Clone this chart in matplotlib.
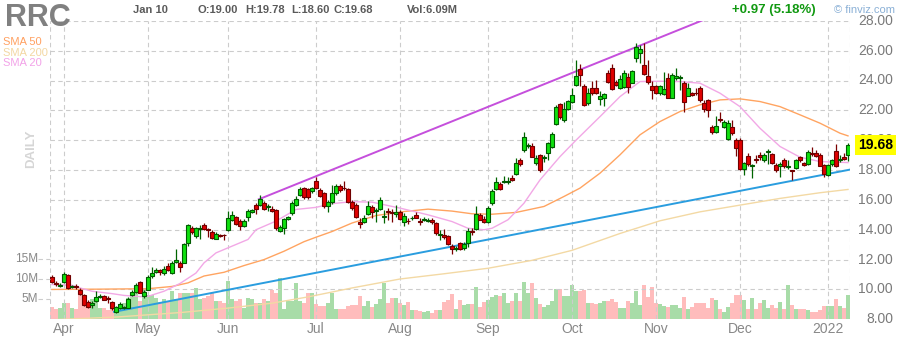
import numpy as np
import matplotlib
matplotlib.use("Agg")
import matplotlib.pyplot as plt
from matplotlib.lines import Line2D
from matplotlib.transforms import blended_transform_factory

plt.rcParams['font.family'] = ['Liberation Sans', 'DejaVu Sans']

# ---- data (trading-day index 0 = 2021-03-29 ... 199 = 2022-01-10) ----
opens = [10.82, 10.42, 10.26, 10.48, 11.0, 10.18, 10.25, 9.99, 9.65, 9.16,
         8.95, 9.2, 9.5, 9.59, 9.42, 9.16, 8.5, 8.76, 8.78, 8.76,
         9.63, 9.83, 10.5, 9.55, 9.99, 10.88, 11.18, 11.3, 11.1, 11.6,
         11.1, 11.85, 11.78, 11.78, 13.08, 14.13, 13.57, 14.08, 14.29, 14.06,
         13.86, 13.41, 13.66, 13.68, 13.97, 14.68, 14.86, 14.58, 14.24, 14.83,
         15.2, 15.63, 15.65, 15.8, 15.52, 15.4, 15.35, 13.9, 14.13, 14.69,
         15.09, 15.65, 16.3, 16.77, 16.7, 16.59, 17.28, 16.67, 16.45, 15.56,
         15.83, 16.45, 16.9, 16.83, 16.74, 15.85, 15.67, 14.49, 14.55, 15.04,
         15.51, 15.25, 15.42, 14.88, 15.22, 15.18, 15.04, 15.2, 14.51, 14.6,
         14.76, 15.0, 14.58, 14.68, 14.6, 14.67, 14.44, 13.64, 13.66, 13.55,
         12.92, 12.7, 13.1, 12.77, 13.1, 13.9, 14.04, 15.0, 14.73, 14.51,
         15.78, 16.72, 17.08, 17.2, 17.17, 17.46, 17.72, 18.68, 19.35, 19.6,
         19.62, 18.46, 19.02, 18.82, 19.13, 19.53, 21.09, 22.41, 21.36, 22.08,
         22.59, 23.71, 24.75, 23.64, 22.52, 23.48, 23.48, 22.79, 22.83, 24.49,
         24.82, 23.91, 23.48, 23.55, 24.22, 23.86, 25.49, 25.87, 25.04, 24.31,
         23.64, 23.64, 23.15, 23.1, 24.15, 22.86, 24.15, 24.2, 23.82, 22.97,
         23.15, 23.17, 23.48, 22.52, 22.66, 20.87, 20.58, 21.42, 20.87, 20.07,
         20.87, 20.02, 20.02, 18.06, 18.95, 18.3, 18.7, 19.02, 18.68, 19.22,
         19.06, 18.33, 18.24, 18.68, 18.22, 18.0, 18.12, 18.86, 18.46, 18.42,
         19.17, 19.13, 19.02, 18.33, 17.66, 18.42, 19.29, 18.7, 18.86, 19.00]
highs = [11.0, 10.55, 10.45, 11.2, 11.02, 10.3, 10.35, 10.1, 9.72, 9.27,
         9.2, 9.87, 9.72, 9.66, 9.55, 9.25, 8.92, 9.14, 8.9, 9.48,
         9.99, 10.43, 10.54, 9.99, 10.95, 11.48, 11.43, 11.36, 11.55, 11.74,
         11.88, 12.68, 11.9, 13.12, 14.4, 14.24, 14.2, 14.29, 14.47, 14.13,
         13.97, 13.84, 13.73, 13.72, 15.28, 15.25, 14.95, 14.69, 14.69, 15.36,
         15.36, 15.8, 16.34, 15.92, 15.7, 15.58, 15.4, 14.35, 14.78, 14.91,
         15.92, 16.25, 16.88, 16.88, 16.8, 16.88, 17.52, 16.79, 16.56, 15.99,
         16.99, 17.07, 17.07, 17.25, 16.79, 16.0, 15.78, 14.78, 14.99, 15.9,
         15.67, 15.45, 16.18, 15.34, 15.45, 15.4, 15.63, 15.34, 15.12, 14.78,
         14.94, 15.16, 14.76, 14.87, 14.76, 14.78, 14.55, 13.99, 14.04, 13.66,
         13.06, 12.9, 13.2, 13.15, 14.11, 14.11, 15.56, 15.11, 14.89, 15.56,
         16.72, 17.56, 17.23, 17.61, 17.56, 17.68, 18.79, 18.79, 20.52, 19.8,
         19.8, 19.0, 19.09, 19.02, 19.91, 20.52, 22.37, 22.52, 22.59, 22.7,
         23.48, 25.4, 25.11, 23.77, 23.48, 24.0, 24.04, 23.3, 23.13, 24.71,
         25.11, 24.04, 24.38, 24.71, 24.49, 24.71, 26.5, 26.38, 26.5, 25.36,
         23.97, 23.68, 23.68, 24.55, 24.49, 24.49, 24.82, 24.38, 24.0, 23.82,
         23.26, 23.48, 23.6, 22.7, 22.75, 21.02, 21.6, 21.86, 21.36, 21.36,
         21.36, 20.13, 20.13, 18.57, 19.13, 18.42, 19.02, 19.24, 19.13, 19.4,
         19.17, 18.46, 18.57, 18.79, 18.68, 18.02, 18.73, 18.95, 18.57, 19.31,
         19.53, 19.35, 19.17, 18.42, 18.42, 18.73, 19.75, 19.02, 19.17, 19.78]
lows = [10.44, 10.2, 10.15, 10.44, 10.05, 10.1, 10.05, 9.65, 8.92, 8.77,
        8.77, 9.13, 9.4, 9.3, 9.1, 8.65, 8.45, 8.7, 8.72, 8.74,
        9.55, 9.77, 9.73, 9.45, 9.95, 10.78, 11.1, 11.0, 11.0, 11.22,
        11.06, 11.78, 11.14, 11.74, 12.9, 13.7, 13.46, 13.39, 13.97, 13.5,
        13.35, 13.35, 13.5, 13.3, 13.9, 14.57, 14.3, 13.97, 14.2, 14.58,
        15.1, 15.08, 15.58, 15.31, 15.25, 15.18, 13.97, 13.84, 13.7, 14.64,
        15.02, 15.58, 16.25, 16.06, 16.04, 16.47, 16.74, 16.22, 15.45, 15.16,
        15.74, 16.34, 16.52, 16.65, 15.78, 15.34, 14.78, 14.09, 14.44, 14.99,
        14.78, 14.53, 15.34, 14.44, 14.67, 14.49, 14.88, 14.67, 14.26, 14.4,
        14.67, 14.78, 14.33, 14.58, 14.49, 14.4, 13.66, 13.33, 13.39, 12.99,
        12.38, 12.56, 12.65, 12.65, 12.84, 13.66, 13.95, 14.62, 14.44, 14.44,
        15.67, 16.63, 16.63, 17.12, 17.08, 17.26, 17.68, 18.3, 19.24, 19.46,
        18.86, 18.35, 17.9, 18.57, 18.68, 19.46, 21.02, 21.45, 21.25, 21.99,
        22.48, 23.6, 23.6, 22.3, 22.37, 23.04, 23.1, 22.37, 22.3, 23.8,
        23.37, 23.6, 23.42, 23.48, 23.19, 23.82, 25.27, 25.16, 24.38, 23.77,
        22.77, 23.1, 23.04, 23.04, 22.82, 22.82, 24.04, 23.33, 21.9, 22.93,
        22.93, 23.04, 22.59, 21.86, 21.54, 20.42, 20.47, 21.25, 20.8, 20.02,
        20.36, 18.92, 18.02, 17.68, 18.24, 17.5, 18.46, 18.68, 18.57, 18.42,
        18.42, 17.9, 17.55, 18.13, 18.06, 17.3, 18.06, 18.57, 18.24, 18.35,
        18.95, 18.86, 18.24, 17.53, 17.57, 18.24, 18.2, 18.57, 18.64, 18.60]
closes = [10.5, 10.36, 10.3, 11.04, 10.1, 10.22, 10.17, 9.7, 8.98, 8.83,
          9.1, 9.5, 9.55, 9.32, 9.38, 8.76, 8.83, 9.03, 8.82, 9.37,
          9.81, 10.28, 9.77, 9.86, 10.84, 11.1, 11.31, 11.18, 11.4, 11.33,
          11.74, 12.0, 11.49, 13.06, 14.35, 13.84, 14.13, 14.12, 14.02, 13.97,
          13.46, 13.73, 13.55, 13.62, 14.79, 14.98, 14.4, 14.24, 14.56, 15.23,
          15.3, 15.4, 16.03, 15.4, 15.56, 15.25, 14.13, 14.17, 14.69, 14.84,
          15.8, 16.07, 16.7, 16.2, 16.2, 16.77, 16.81, 16.29, 15.56, 15.85,
          16.45, 16.94, 16.67, 16.78, 15.83, 15.45, 14.84, 14.4, 14.82, 15.56,
          15.22, 15.29, 15.98, 14.92, 15.18, 15.14, 15.2, 14.7, 14.9, 14.56,
          14.8, 14.8, 14.53, 14.72, 14.64, 14.49, 13.77, 13.68, 13.5, 13.06,
          12.7, 12.74, 12.7, 13.06, 13.93, 13.86, 15.07, 14.67, 14.51, 15.49,
          16.61, 17.23, 16.72, 17.25, 17.28, 17.3, 18.46, 18.39, 20.2, 19.64,
          18.9, 18.82, 18.0, 18.86, 19.8, 20.4, 22.21, 21.54, 22.1, 22.61,
          23.04, 24.31, 24.38, 22.37, 23.15, 23.15, 23.15, 22.99, 23.1, 23.93,
          23.42, 23.68, 24.08, 24.49, 23.55, 24.64, 26.27, 26.09, 24.44, 23.93,
          23.33, 23.15, 23.6, 23.44, 22.86, 24.38, 24.33, 24.24, 22.59, 23.48,
          23.04, 23.13, 22.7, 22.08, 21.99, 20.58, 20.96, 21.38, 21.25, 21.14,
          20.47, 19.51, 18.06, 18.46, 18.42, 18.35, 18.66, 18.86, 19.02, 19.26,
          18.46, 17.97, 18.42, 18.24, 18.26, 17.93, 18.68, 18.64, 18.35, 19.24,
          19.08, 18.95, 18.28, 17.75, 18.33, 18.64, 18.24, 18.73, 18.71, 19.68]
volumes = [3.2, 2.5, 2.9, 4.2, 4.2, 2.9, 2.7, 6.5, 5.0, 4.2,
           5.2, 5.2, 2.9, 2.9, 2.3, 3.2, 2.9, 3.8, 4.2, 5.4,
           5.8, 6.5, 4.6, 7.5, 6.0, 6.0, 5.4, 4.3, 5.2, 4.3,
           7.2, 5.0, 6.7, 6.7, 6.7, 6.7, 7.9, 5.2, 5.4, 5.8,
           6.5, 4.6, 4.6, 4.2, 9.6, 5.0, 4.6, 5.0, 2.9, 5.4,
           5.2, 4.2, 4.2, 5.2, 4.6, 7.3, 6.5, 10.4, 2.5, 4.6,
           4.6, 9.0, 4.6, 4.0, 6.5, 6.5, 3.8, 3.3, 3.3, 4.0,
           6.5, 2.7, 2.7, 2.7, 3.3, 3.6, 3.6, 5.8, 3.3, 4.6,
           3.2, 3.8, 5.2, 9.0, 4.0, 5.4, 5.4, 4.2, 3.6, 4.4,
           2.3, 2.3, 2.1, 1.9, 2.1, 1.7, 2.4, 2.4, 4.4, 4.8,
           6.3, 2.5, 4.8, 3.6, 3.8, 3.8, 8.2, 3.2, 4.4, 4.8,
           5.5, 6.2, 5.8, 6.6, 4.2, 4.6, 6.5, 4.6, 9.4, 6.6,
           9.2, 5.4, 3.8, 3.2, 3.6, 4.6, 7.7, 7.6, 5.8, 5.8,
           8.6, 7.0, 7.2, 7.3, 4.0, 4.0, 3.75, 4.0, 4.6, 4.6,
           5.0, 4.3, 2.9, 2.9, 4.6, 4.2, 7.1, 3.5, 8.5, 5.7,
           8.1, 4.0, 3.75, 3.3, 3.2, 3.5, 3.5, 2.9, 5.6, 2.7,
           3.2, 4.0, 4.0, 4.0, 2.75, 5.4, 4.75, 2.7, 1.9, 3.2,
           4.2, 6.0, 6.0, 4.75, 2.5, 5.25, 2.5, 4.2, 4.75, 2.9,
           3.6, 2.9, 4.4, 2.5, 8.5, 3.5, 2.7, 2.7, 2.5, 2.25,
           1.8, 1.9, 2.3, 3.3, 3.3, 3.3, 5.0, 3.3, 2.9, 6.09]

# moving averages (index, value)
sma20_idx = [0, 5, 7, 10, 15, 18, 22, 24, 28, 32, 36, 38, 41, 45, 49, 51, 56, 61, 66,
             70, 75, 80, 87, 94, 100, 104, 108, 110, 114, 118, 122, 127, 131, 137,
             142, 147, 152, 157, 162, 167, 172, 177, 182, 187, 192, 199]
sma20_val = [10.33, 10.28, 10.1, 9.88, 9.72, 9.6, 9.52, 9.54, 9.88, 10.4, 11.1, 11.78, 12.45,
             12.9, 13.35, 14.0, 14.58, 15.36, 15.5, 15.75, 15.88, 15.85, 15.45, 15.0, 14.55,
             14.1, 14.0, 14.1, 14.67, 15.78, 17.34, 18.9, 20.0, 21.58, 22.92, 23.93, 23.95,
             23.93, 23.82, 23.15, 22.25, 20.8, 19.58, 18.86, 18.57, 18.5]
sma50_idx = [0, 12, 24, 30, 34, 38, 43, 48, 53, 58, 63, 66, 70, 75, 81, 88, 94, 100, 105,
             110, 116, 123, 128, 132, 137, 142, 147, 152, 157, 162, 167, 172, 177, 182,
             187, 192, 197, 199]
sma50_val = [10.0, 10.02, 10.05, 10.2, 10.44, 10.9, 11.15, 11.6, 12.0, 12.56, 13.2, 13.5,
             13.88, 14.45, 14.95, 15.22, 15.38, 15.25, 15.07, 15.04, 15.16, 15.56, 16.23,
             16.79, 17.79, 19.02, 20.36, 21.25, 21.92, 22.37, 22.7, 22.77, 22.59, 22.25,
             21.7, 21.14, 20.47, 20.29]
sma200_idx = [0, 16, 32, 44, 55, 64, 75, 87, 98, 109, 120, 130, 142, 152, 162, 172, 182, 192, 199]
sma200_val = [7.97, 8.15, 8.45, 8.75, 9.08, 9.5, 10.1, 10.7, 11.05, 11.42, 11.95, 12.62, 13.75,
              14.6, 15.2, 15.65, 16.1, 16.48, 16.7]

# trendlines (index, price)
upper_trend_idx = [51.7, 170]
upper_trend_val = [16.04, 28.83]
lower_trend_idx = [15.5, 199.5]
lower_trend_val = [8.5, 18.03]

month_idx = [3, 24, 44, 66, 87, 109, 130, 151, 172, 194]
month_labels = ['Apr', 'May', 'Jun', 'Jul', 'Aug', 'Sep', 'Oct', 'Nov', 'Dec', '2022']
price_ticks = [28, 26, 24, 22, 20, 18, 16, 14, 12, 10, 8]
vol_ticks = [5, 10, 15]

# ---- figure ----
W, H = 900, 340
fig = plt.figure(figsize=(W / 100, H / 100), dpi=100)
fig.patch.set_facecolor('white')

left_px, right_px, top_px, bot_px = 50, 850, 20.8, 319.3
ax = fig.add_axes([left_px / W, (H - bot_px) / H, (right_px - left_px) / W, (bot_px - top_px) / H])
axv = ax.twinx()
ax.set_zorder(axv.get_zorder() + 1)
ax.patch.set_visible(False)

for a in (ax, axv):
    for s in a.spines.values():
        s.set_visible(False)
    a.set_xticks([])
    a.set_yticks([])

ax.set_xlim(-0.5, 199.5)
ax.set_ylim(8, 28)
axv.set_ylim(0, (bot_px - top_px) / 4.0)   # 4 px per million

x = np.arange(len(closes))
o = np.array(opens)
c = np.array(closes)
up = c >= o

# volume
vcol = np.where(up, '#a8dca8', '#ffbcbc')
axv.bar(x, volumes, width=1.0, color=vcol, linewidth=0, zorder=1)

# grid
grid_kw = dict(color='#cccccc', lw=0.8, ls=(0, (4, 3)), zorder=2)
for p in price_ticks[:-1]:
    ax.axhline(p, **grid_kw)
for m in month_idx:
    ax.axvline(m, **grid_kw)
ax.axvline(-0.5, **grid_kw)
ax.axvline(199.5, **grid_kw)

# moving averages
ax.plot(sma200_idx, sma200_val, color='#f3d9a4', lw=1.0, zorder=3)
ax.plot(sma50_idx, sma50_val, color='#ffa461', lw=1.0, zorder=3)
ax.plot(sma20_idx, sma20_val, color='#f2a8e6', lw=1.0, zorder=3)

# trendlines
ax.plot(upper_trend_idx, upper_trend_val, color='#c54fdc', lw=1.4, zorder=3)
ax.plot(lower_trend_idx, lower_trend_val, color='#2a9ddf', lw=1.4, zorder=3)

# candles
wick_col = np.where(up, '#006400', '#7a0000')
ax.vlines(x, lows, highs, colors=wick_col, lw=0.9, zorder=4)
body_lo = np.minimum(o, c)
body_h = np.maximum(np.abs(c - o), 0.05)
ax.bar(x, body_h, bottom=body_lo, width=0.8,
       color=np.where(up, '#0fe00f', '#e00000'),
       edgecolor=np.where(up, '#005a00', '#700000'), linewidth=0.8, zorder=5)

# right price labels
tr = blended_transform_factory(fig.transFigure, ax.transData)
for p in price_ticks:
    ax.text(893 / W, p, f'{p:.2f}', transform=tr, ha='right', va='center',
            fontsize=10, color='#7a7a7a', clip_on=False)

# last price tag
ax.text(893 / W, closes[-1], f'{closes[-1]:.2f}', transform=tr, ha='right', va='center',
        fontsize=10, fontweight='bold', color='black', clip_on=False, zorder=10,
        bbox=dict(boxstyle='square,pad=0.2', fc='#ffff00', ec='none'))

# month labels
for m, lab in zip(month_idx, month_labels):
    fig.text((52 + 4 * m) / W, 1 - 329 / H, lab, ha='center', va='center',
             fontsize=10, color='#888888')

# volume labels + short dashes on the left
trv = blended_transform_factory(fig.transFigure, axv.transData)
for v in vol_ticks:
    axv.text(38 / W, v, f'{v}M', transform=trv, ha='right', va='center',
             fontsize=8.5, color='#888888', clip_on=False)
    fig.add_artist(Line2D([38 / W, 50 / W], [v, v], transform=trv, color='#cccccc',
                          lw=0.8, ls=(0, (4, 3))))

# header texts
fig.text(5 / W, 1 - 18 / H, 'RRC', fontsize=22, fontweight='bold', color='#808080',
         ha='left', va='center')
fig.text(3 / W, 1 - 42 / H, 'SMA 50', fontsize=8, color='#ffa060', ha='left', va='center')
fig.text(3 / W, 1 - 52.5 / H, 'SMA 200', fontsize=8, color='#f3d7a2', ha='left', va='center')
fig.text(3 / W, 1 - 63 / H, 'SMA 20', fontsize=8, color='#f2a2e8', ha='left', va='center')
fig.text(31 / W, 1 - 149 / H, 'DAILY', fontsize=9.5, fontweight='bold', color='#d6d6d6',
         rotation=90, ha='center', va='center')

hdr = dict(fontsize=8, fontweight='bold', color='#5a5a5a', ha='left', va='center')
fig.text(133 / W, 1 - 10 / H, 'Jan 10', **hdr)
fig.text(197 / W, 1 - 10 / H, f'O:{opens[-1]:.2f}', **hdr)
fig.text(245 / W, 1 - 10 / H, f'H:{highs[-1]:.2f}', **hdr)
fig.text(291 / W, 1 - 10 / H, f'L:{lows[-1]:.2f}', **hdr)
fig.text(333 / W, 1 - 10 / H, f'C:{closes[-1]:.2f}', **hdr)
fig.text(407 / W, 1 - 10 / H, f'Vol:{volumes[-1]:.2f}M', **hdr)

chg = closes[-1] - closes[-2]
fig.text(732 / W, 1 - 10 / H, f'+{chg:.2f} ({chg / closes[-2] * 100:.2f}%)', fontsize=9.5,
         fontweight='bold', color='#119911', ha='left', va='center')
fig.text(834 / W, 1 - 10 / H, '\u00a9 finviz.com', fontsize=8, color='#8ab0d6',
         ha='left', va='center')

fig.savefig('out.png', dpi=100)
